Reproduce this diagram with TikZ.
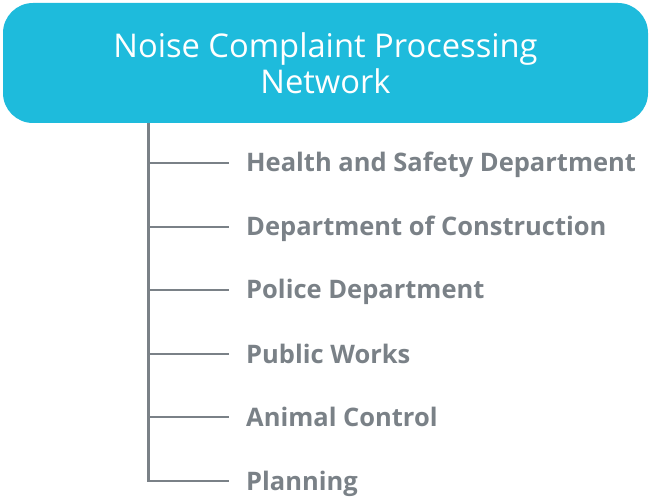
\documentclass[tikz,border=0pt]{standalone}
\usepackage{fontspec}
\setmainfont{Open Sans}
\usetikzlibrary{positioning}
\definecolor{titlecyan}{HTML}{1EBBDC}
\definecolor{branchgray}{HTML}{7A8187}

\begin{document}
\begin{tikzpicture}
  [
    x=1pt,y=-1pt,
    title/.style={
      fill=titlecyan,
      rounded corners=30pt,
      minimum width=645pt,
      minimum height=120pt,
      text=white,
      align=center,
      font=\fontsize{32.7}{35.5}\selectfont
    },
    item/.style={anchor=base west,inner sep=0pt,text=branchgray,
      font=\bfseries\fontsize{25.5}{28}\selectfont},
    branch/.style={draw=branchgray,line width=2.5pt},
  ]
    \useasboundingbox (0,0) rectangle (649,500);
    % title box
    \node [title] (head) at (325.5,63) {Noise Complaint Processing\\Network};
    \coordinate (trunk) at (148.5,123);
    % departments
    \foreach \name/\y/\txt in {health/163/Health and Safety Department,
        construction/227/Department of Construction,
        police/290/Police Department,
        works/354/Public Works,
        animal/417/Animal Control,
        planning/481/Planning}
    {
      \coordinate (j-\name) at (148.5,\y);
      \coordinate (e-\name) at (229,\y);
      \node [item] (\name) at (246,\y+9) {\txt};
      \draw [branch] (j-\name) -- (e-\name);
    }
    % trunk line
    \draw [branch] (trunk) |- (e-planning);
  \end{tikzpicture}
\end{document}
